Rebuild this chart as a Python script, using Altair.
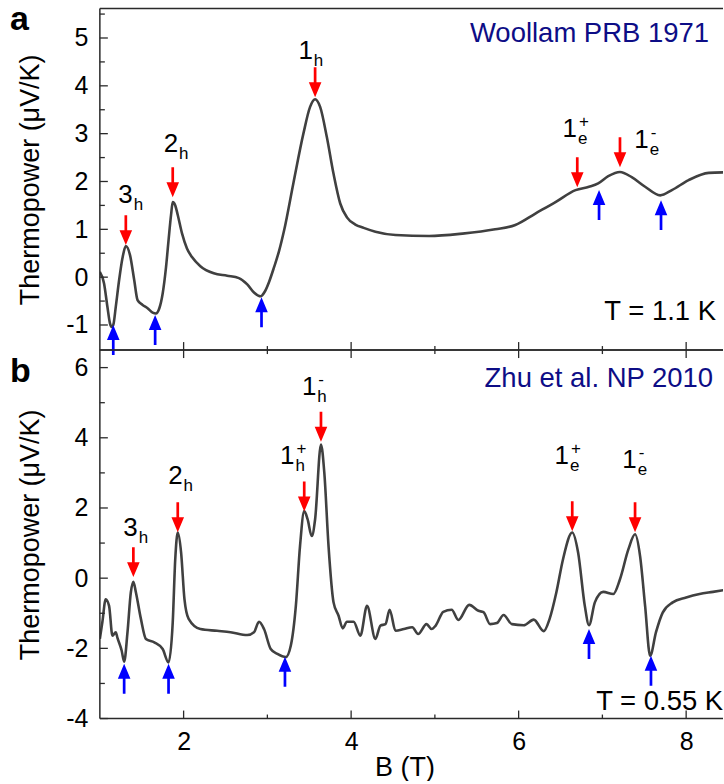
import altair as alt
import pandas as pd

FONT = "Liberation Sans"
W = 624
HA = 342
HB = 369
XDOM = [1.0, 8.44]

# ---------------- panel a : Woollam PRB 1971 ----------------
a_B = [1.00, 1.05, 1.09, 1.12, 1.14, 1.16, 1.19, 1.23, 1.27, 1.31, 1.36, 1.41, 1.45, 1.51,
       1.57, 1.63, 1.67, 1.71, 1.75, 1.79, 1.82, 1.85, 1.87, 1.90, 1.93, 1.98, 2.04, 2.10,
       2.20, 2.36, 2.52, 2.66, 2.76, 2.84, 2.92, 2.97, 3.02, 3.08, 3.14, 3.20, 3.31, 3.43,
       3.51, 3.57, 3.63, 3.71, 3.79, 3.87, 3.95, 4.05, 4.15, 4.29, 4.53, 4.93, 5.33, 5.72,
       5.96, 6.20, 6.44, 6.68, 6.84, 6.95, 7.07, 7.21, 7.35, 7.51, 7.69, 7.83, 8.03, 8.27, 8.45]
a_S = [0.11, -0.13, -0.62, -0.96, -1.04, -1.00, -0.62, -0.06, 0.40, 0.65, 0.46, -0.06, -0.48, -0.58,
       -0.65, -0.74, -0.76, -0.65, -0.34, 0.21, 0.77, 1.30, 1.57, 1.50, 1.30, 0.92, 0.60, 0.42,
       0.23, 0.08, 0.03, -0.02, -0.15, -0.32, -0.40, -0.30, -0.10, 0.21, 0.55, 0.98, 1.96, 3.00,
       3.56, 3.72, 3.56, 2.93, 2.16, 1.54, 1.25, 1.10, 1.03, 0.95, 0.88, 0.86, 0.91, 1.00,
       1.09, 1.33, 1.57, 1.82, 1.89, 1.96, 2.11, 2.20, 2.09, 1.89, 1.71, 1.82, 2.03, 2.18, 2.19]
a_red_B = [1.31, 1.87, 3.57, 6.70, 7.21]
a_red_S = [0.67, 1.67, 3.76, 1.88, 2.30]
a_blue_B = [1.16, 1.66, 2.93, 6.96, 7.70]
a_blue_S = [-1.00, -0.79, -0.42, 1.82, 1.61]
a_lab_B = [1.392, 1.934, 3.543, 6.696, 7.554]
a_lab_S = [1.545, 2.61, 4.57, 2.92, 2.71]
a_lab_main = ["3", "2", "1", "1", "1"]
a_lab_sub = ["h", "h", "h", "e", "e"]
a_lab_sup = ["", "", "", "+", "-"]
a_ydom = [-1.524, 5.616]
a_ymajor = [-1, 0, 1, 2, 3, 4, 5]
a_yminor = [-0.5, 0.5, 1.5, 2.5, 3.5, 4.5, 5.5]

# ---------------- panel b : Zhu et al. NP 2010 ----------------
b_B = [1.00, 1.03, 1.07, 1.11, 1.15, 1.19, 1.21, 1.26, 1.29, 1.33, 1.37, 1.40, 1.43, 1.49,
       1.55, 1.65, 1.75, 1.82, 1.87, 1.90, 1.93, 1.97, 2.01, 2.06, 2.20, 2.40, 2.56, 2.76,
       2.84, 2.90, 2.96, 3.04, 3.12, 3.22, 3.28, 3.34, 3.39, 3.44, 3.48, 3.53, 3.57, 3.64,
       3.68, 3.73, 3.79, 3.85, 3.90, 3.95, 4.03, 4.11, 4.19, 4.29, 4.35, 4.41, 4.46, 4.53,
       4.63, 4.73, 4.80, 4.90, 4.96, 5.01, 5.10, 5.20, 5.28, 5.41, 5.52, 5.58, 5.66, 5.74,
       5.82, 5.92, 6.06, 6.18, 6.30, 6.37, 6.45, 6.53, 6.64, 6.71, 6.79, 6.84, 6.91, 7.01,
       7.13, 7.21, 7.31, 7.39, 7.45, 7.51, 7.57, 7.64, 7.72, 7.84, 8.00, 8.16, 8.32, 8.45]
b_S = [-1.73, -1.25, -0.60, -0.79, -1.64, -1.54, -1.70, -2.06, -2.38, -1.54, -0.40, -0.10, -0.40, -1.16,
       -1.73, -1.83, -2.02, -2.40, -1.26, 0.54, 1.30, 0.73, -0.60, -1.16, -1.45, -1.50, -1.54, -1.62,
       -1.54, -1.24, -1.45, -2.02, -2.16, -2.25, -1.92, -0.79, 0.92, 1.91, 1.68, 1.20, 1.68, 3.81,
       3.00, 0.92, -0.69, -1.07, -1.43, -1.24, -1.24, -1.64, -0.79, -1.73, -1.35, -1.31, -0.90, -1.50,
       -1.45, -1.40, -1.59, -1.31, -1.45, -1.35, -0.96, -0.90, -1.19, -0.76, -0.93, -0.97, -1.31, -1.28,
       -1.05, -1.31, -1.34, -1.18, -1.51, -1.16, -0.41, 0.54, 1.30, 0.73, -0.79, -1.34, -0.69, -0.39,
       -0.45, -0.03, 0.82, 1.25, 0.63, -0.79, -2.21, -1.54, -0.98, -0.69, -0.55, -0.45, -0.39, -0.34]
b_red_B = [1.40, 1.93, 3.44, 3.64, 6.64, 7.39]
b_red_S = [0.03, 1.31, 1.90, 3.89, 1.34, 1.31]
b_blue_B = [1.29, 1.82, 3.21, 6.84, 7.58]
b_blue_S = [-2.44, -2.44, -2.24, -1.45, -2.21]
b_lab_B = [1.452, 1.988, 3.323, 3.585, 6.60, 7.41]
b_lab_S = [1.19, 2.67, 3.24, 5.23, 3.24, 3.15]
b_lab_main = ["3", "2", "1", "1", "1", "1"]
b_lab_sub = ["h", "h", "h", "h", "e", "e"]
b_lab_sup = ["", "", "+", "-", "+", "-"]
b_ydom = [-4, 6.5]
b_ymajor = [-4, -2, 0, 2, 4, 6]
b_yminor = [-3, -1, 1, 3, 5]

x_major = [2, 4, 6, 8]
x_minor = [3, 5, 7]

DOWN = "M-0.09,-1L0.09,-1L0.09,0L0.42,0L0,1L-0.42,0L-0.09,0Z"
UP = "M-0.09,1L0.09,1L0.09,0L0.42,0L0,-1L-0.42,0L-0.09,0Z"
LABEL_EXPR = "datum.value < 0 ? '-' + format(-datum.value, 'd') : format(datum.value, 'd')"
ONE = pd.DataFrame({"k": [0]})
NAVY = "#0d0d86"
YTITLE = "Thermopower (μV/K)"


def panel(B, S, interp, ydom, ymajor, yminor, H, redB, redS, blueB, blueS,
          labB, labS, labMain, labSub, labSup, letter, letter_y,
          src, src_y, temp, temp_x, temp_y, temp_align, show_x, top_ticks):
    xs = alt.Scale(domain=XDOM, nice=False, zero=False)
    ys = alt.Scale(domain=ydom, nice=False, zero=False)
    yaxis = alt.Axis(values=ymajor, ticks=False, domain=False, grid=False,
                     labelPadding=12, labelFontSize=25, labelFont=FONT, labelColor="black",
                     labelExpr=LABEL_EXPR, labelOverlap=False,
                     title=YTITLE, titleFont=FONT, titleFontSize=27,
                     titleFontWeight="normal", titleColor="black", titlePadding=21)
    if show_x:
        xaxis = alt.Axis(values=x_major, ticks=False, domain=False, grid=False,
                         labelPadding=11, labelFontSize=25, labelFont=FONT, labelColor="black",
                         labelOverlap=False, labelFlush=False,
                         title="B (T)", titleFont=FONT, titleFontSize=27,
                         titleFontWeight="normal", titleColor="black", titlePadding=0,
                         titleX=305, titleAnchor="middle")
    else:
        xaxis = None

    def X(f):
        return alt.X(f, scale=xs, axis=xaxis, title="B (T)")

    def Y(f):
        return alt.Y(f, scale=ys, axis=yaxis, title=YTITLE)

    curve = pd.DataFrame({"B": B, "S": S})
    line = alt.Chart(curve).mark_line(color="#404040", strokeWidth=2.6, clip=True,
                                      interpolate=interp).encode(x=X("B:Q"), y=Y("S:Q"))

    layers = [line]
    fc = "#2a2a2a"
    # frame: left, top, bottom
    layers.append(alt.Chart(ONE).mark_rule(color=fc, strokeWidth=1.5).encode(
        x=alt.value(0), y=alt.value(0), y2=alt.value(H)))
    layers.append(alt.Chart(ONE).mark_rule(color=fc, strokeWidth=1.5).encode(
        x=alt.value(0), x2=alt.value(W), y=alt.value(0)))
    layers.append(alt.Chart(ONE).mark_rule(color=fc, strokeWidth=1.5).encode(
        x=alt.value(0), x2=alt.value(W), y=alt.value(H)))
    # y ticks (inward)
    layers.append(alt.Chart(pd.DataFrame({"v": ymajor})).mark_rule(color=fc, strokeWidth=1.3).encode(
        y=Y("v:Q"), x=alt.value(0), x2=alt.value(8)))
    layers.append(alt.Chart(pd.DataFrame({"v": yminor})).mark_rule(color=fc, strokeWidth=1.3).encode(
        y=Y("v:Q"), x=alt.value(0), x2=alt.value(5)))
    # x ticks bottom (inward)
    layers.append(alt.Chart(pd.DataFrame({"v": x_major})).mark_rule(color=fc, strokeWidth=1.3).encode(
        x=X("v:Q"), y=alt.value(H - 8), y2=alt.value(H)))
    layers.append(alt.Chart(pd.DataFrame({"v": x_minor})).mark_rule(color=fc, strokeWidth=1.3).encode(
        x=X("v:Q"), y=alt.value(H - 4), y2=alt.value(H)))
    if top_ticks:
        layers.append(alt.Chart(pd.DataFrame({"v": x_major})).mark_rule(color=fc, strokeWidth=1.3).encode(
            x=X("v:Q"), y=alt.value(0), y2=alt.value(8)))
        layers.append(alt.Chart(pd.DataFrame({"v": x_minor})).mark_rule(color=fc, strokeWidth=1.3).encode(
            x=X("v:Q"), y=alt.value(0), y2=alt.value(4)))

    # arrows
    red = pd.DataFrame({"B": redB, "S": redS})
    blue = pd.DataFrame({"B": blueB, "S": blueS})
    layers.append(alt.Chart(red).mark_point(shape=DOWN, size=900, filled=True, opacity=1,
                                            strokeWidth=0, color="#ff0000", yOffset=-15).encode(
        x=X("B:Q"), y=Y("S:Q")))
    layers.append(alt.Chart(blue).mark_point(shape=UP, size=900, filled=True, opacity=1,
                                             strokeWidth=0, color="#0000ff", yOffset=15).encode(
        x=X("B:Q"), y=Y("S:Q")))

    # peak labels
    lab = pd.DataFrame({"B": labB, "S": labS, "main": labMain, "sub": labSub, "sup": labSup})
    layers.append(alt.Chart(lab).mark_text(align="right", baseline="alphabetic", font=FONT,
                                           fontSize=26, color="black").encode(
        x=X("B:Q"), y=Y("S:Q"), text="main:N"))
    layers.append(alt.Chart(lab).mark_text(align="left", baseline="alphabetic", font=FONT,
                                           fontSize=17, color="black", dx=1, dy=7).encode(
        x=X("B:Q"), y=Y("S:Q"), text="sub:N"))
    layers.append(alt.Chart(lab).mark_text(align="left", baseline="middle", font=FONT,
                                           fontSize=17, color="black", dx=2, dy=-15).encode(
        x=X("B:Q"), y=Y("S:Q"), text="sup:N"))

    # panel letter, source and temperature
    layers.append(alt.Chart(ONE).mark_text(align="left", baseline="alphabetic", font=FONT,
                                           fontSize=34, fontWeight="bold", color="black").encode(
        x=alt.value(-90), y=alt.value(letter_y), text=alt.value(letter)))
    layers.append(alt.Chart(ONE).mark_text(align="right", baseline="alphabetic", font=FONT,
                                           fontSize=27.5, color=NAVY).encode(
        x=alt.value(src[1]), y=alt.value(src_y), text=alt.value(src[0])))
    layers.append(alt.Chart(ONE).mark_text(align=temp_align, baseline="alphabetic", font=FONT,
                                           fontSize=27.5, color="black", clip=True).encode(
        x=alt.value(temp_x), y=alt.value(temp_y), text=alt.value(temp)))

    return alt.layer(*layers).properties(width=W, height=H)


top = panel(a_B, a_S, "monotone", a_ydom, a_ymajor, a_yminor, HA,
            a_red_B, a_red_S, a_blue_B, a_blue_S,
            a_lab_B, a_lab_S, a_lab_main, a_lab_sub, a_lab_sup,
            "a", 22, ("Woollam PRB 1971", 610), 34, "T = 1.1 K", 617, 312, "right",
            show_x=False, top_ticks=False)
bottom = panel(b_B, b_S, "monotone", b_ydom, b_ymajor, b_yminor, HB,
               b_red_B, b_red_S, b_blue_B, b_blue_S,
               b_lab_B, b_lab_S, b_lab_main, b_lab_sub, b_lab_sup,
               "b", 32, ("Zhu et al. NP 2010", 614), 37, "T = 0.55 K", 497, 360, "left",
               show_x=True, top_ticks=True)

chart = alt.vconcat(top, bottom, spacing=0, bounds="flush").properties(
    padding={"left": 10, "top": 3, "right": 0, "bottom": 0},
    background="white",
).configure_view(stroke=None)

chart.save("out.html", embed_options={"renderer": "svg", "actions": False})
